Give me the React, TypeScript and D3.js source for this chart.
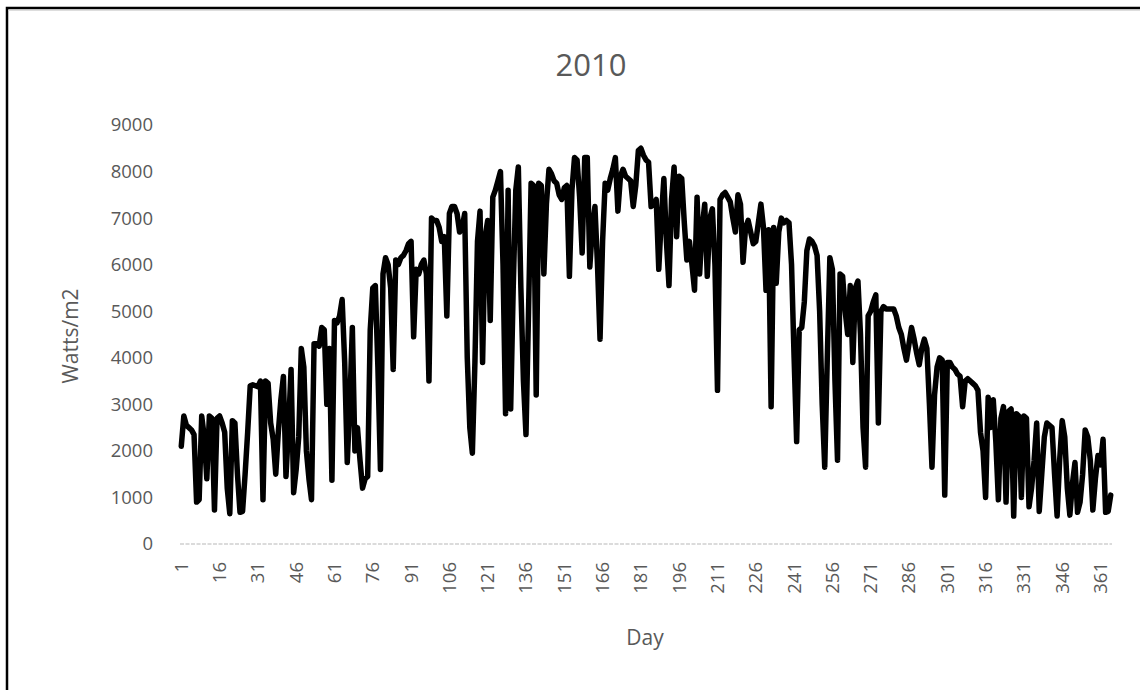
import React from "react";
import * as d3 from "d3";

const title = "2010";
const xTitle = "Day";
const yTitle = "Watts/m2";
const yTicks = [0, 1000, 2000, 3000, 4000, 5000, 6000, 7000, 8000, 9000];
const xTickDays = [1, 16, 31, 46, 61, 76, 91, 106, 121, 136, 151, 166, 181, 196, 211, 226, 241, 256, 271, 286, 301, 316, 331, 346, 361];

// Daily values, days 1..365
const watts = [
  2100, 2750, 2550, 2500, 2450, 2350, 900, 950, 2750, 2300,
  1400, 2750, 2700, 730, 2700, 2750, 2600, 2400, 1200, 650,
  2650, 2600, 1500, 680, 700, 1500, 2400, 3400, 3420, 3400,
  3380, 3500, 950, 3500, 3450, 2600, 2250, 1500, 2400, 3100,
  3600, 1450, 2500, 3750, 1100, 1600, 2300, 4200, 3800, 2000,
  1400, 950, 4300, 4300, 4250, 4650, 4600, 3000, 4200, 1370,
  4800, 4750, 4900, 5250, 3900, 1750, 3000, 4650, 2000, 2500,
  1800, 1200, 1400, 1450, 4600, 5500, 5550, 3800, 1600, 5800,
  6150, 6000, 5500, 3750, 6100, 6000, 6150, 6200, 6300, 6450,
  6500, 4450, 5900, 5800, 6000, 6100, 5800, 3500, 7000, 6950,
  6950, 6800, 6500, 6600, 4900, 7100, 7250, 7250, 7100, 6700,
  6800, 7100, 4000, 2500, 1950, 3900, 6500, 7150, 3900, 6600,
  6950, 4800, 7450, 7600, 7800, 8000, 6000, 2800, 7600, 2900,
  5500, 7600, 8100, 5500, 3500, 2350, 5000, 7750, 7700, 3200,
  7750, 7700, 5800, 7300, 8050, 7950, 7800, 7750, 7500, 7400,
  7650, 7700, 5750, 7600, 8300, 8250, 7450, 6250, 8300, 8300,
  5950, 6800, 7250, 6000, 4400, 6500, 7750, 7600, 7850, 8050,
  8300, 7150, 7900, 8050, 7900, 7850, 7800, 7250, 7700, 8450,
  8500, 8350, 8250, 8200, 7250, 7300, 7400, 5900, 7000, 7850,
  6500, 5550, 7400, 8100, 6600, 7900, 7850, 6900, 6100, 6500,
  6000, 5450, 7450, 5800, 6800, 7300, 5750, 7000, 7200, 6000,
  3300, 7400, 7500, 7550, 7450, 7350, 7000, 6700, 7500, 7300,
  6050, 6800, 6950, 6700, 6450, 6500, 6900, 7300, 6800, 5450,
  6750, 2950, 6800, 5600, 6700, 7000, 6900, 6950, 6900, 6000,
  4000, 2200, 4600, 4650, 5200, 6300, 6550, 6500, 6400, 6200,
  5000, 3000, 1650, 4000, 6150, 5900, 3500, 1800, 5800, 5750,
  5000, 4500, 5550, 3900, 5500, 5650, 4500, 2500, 1650, 4900,
  5000, 5200, 5350, 2600, 5000, 5100, 5050, 5050, 5050, 5050,
  4900, 4650, 4500, 4200, 3950, 4300, 4650, 4400, 4100, 3850,
  4200, 4400, 4200, 3000, 1650, 3200, 3800, 4000, 3950, 1050,
  3900, 3900, 3800, 3750, 3650, 3600, 2950, 3500, 3550, 3500,
  3450, 3400, 3300, 2400, 2000, 1000, 3150, 2500, 3100, 2200,
  950, 2700, 2950, 900, 2850, 2900, 600, 2800, 2750, 1000,
  2750, 2700, 800, 1200, 1800, 2600, 700, 1500, 2300, 2600,
  2550, 2500, 1500, 600, 1800, 2650, 2300, 1200, 620, 1300,
  1750, 680, 900, 1500, 2450, 2300, 1800, 730, 1400, 1900,
  1700, 2250, 680, 700, 1050,
];

const W = 1140;
const H = 690;
const FONT = "'Open Sans', 'Noto Sans', sans-serif";
const GREY = "#595959";

export default function App() {
  const days = watts.map((_, i) => i + 1);
  const x = d3.scaleLinear().domain([0.5, 365.5]).range([180, 1112]);
  const y = d3.scaleLinear().domain([0, 9000]).range([544, 125]);
  const line = d3
    .line<number>()
    .x((_, i) => x(days[i]))
    .y((d) => y(d));
  const path = line(watts) || "";

  return (
    <svg
      width={W}
      height={H}
      style={{ position: "absolute", left: 0, top: 0, background: "#fff" }}
      fontFamily={FONT}
    >
      <rect x={0} y={0} width={W} height={H} fill="#fff" />
      {/* chart frame */}
      <rect x={7} y={8} width={1400} height={1000} fill="none" stroke="#000" strokeWidth={2.5} />
      <line x1={8.5} x2={W} y1={10.5} y2={10.5} stroke="#ddd" strokeWidth={1} />

      {/* title */}
      <text x={591} y={76} textAnchor="middle" fontSize={31} fill={GREY}>
        {title}
      </text>

      {/* y tick labels */}
      {yTicks.map((t) => (
        <text key={t} x={153} y={y(t)} dy="0.35em" textAnchor="end" fontSize={18.5} fill={GREY}>
          {t}
        </text>
      ))}

      {/* axis baseline */}
      <line x1={x(0.5)} x2={x(365.5)} y1={y(0)} y2={y(0)} stroke="#d0d0d0" strokeWidth={1.5} strokeDasharray="4 1.5" />

      {/* x tick labels */}
      {xTickDays.map((d) => (
        <text
          key={d}
          transform={`translate(${x(d)},${562}) rotate(-90)`}
          dy="0.35em"
          textAnchor="end"
          fontSize={18.5}
          fill={GREY}
        >
          {d}
        </text>
      ))}

      {/* axis titles */}
      <text x={645} y={645} textAnchor="middle" fontSize={21} fill={GREY}>
        {xTitle}
      </text>
      <text transform={`translate(${78},${336}) rotate(-90)`} textAnchor="middle" fontSize={21} fill={GREY}>
        {yTitle}
      </text>

      {/* data line */}
      <path d={path} fill="none" stroke="#000" strokeWidth={5.5} strokeLinejoin="round" strokeLinecap="round" />
    </svg>
  );
}
